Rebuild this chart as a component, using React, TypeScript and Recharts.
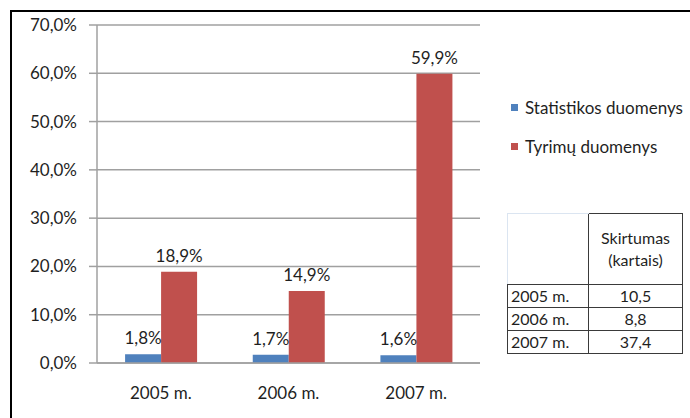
import React from "react";
import { BarChart, Bar, XAxis, YAxis, CartesianGrid, LabelList } from "recharts";

const years = ["2005 m.", "2006 m.", "2007 m."];
const statistikos = [1.8, 1.7, 1.6];
const tyrimu = [18.9, 14.9, 59.9];
const skirtumas = ["10,5", "8,8", "37,4"];
const yTicks = [0, 10, 20, 30, 40, 50, 60, 70];
const edgeTicks = [0, 1, 2, 3];

const seriesNames = ["Statistikos duomenys", "Tyrimų duomenys"];
const colors = ["#4f81bd", "#c0504d"];

const data = years.map((name, i) => ({ name, stat: statistikos[i], tyr: tyrimu[i] }));

const fmt = (v: number) => v.toFixed(1).replace(".", ",") + "%";

const FONT = "Lato, 'Noto Sans', sans-serif";
const TEXT = "#1f1f1f";
const GRID = "#a0a0a0";
const FS = 17;

function LegendBox() {
  return (
    <div
      style={{
        position: "absolute",
        left: 511,
        top: 97,
        fontFamily: FONT,
        fontSize: FS,
        color: TEXT,
        whiteSpace: "nowrap",
      }}
    >
      {seriesNames.map((n, i) => (
        <div key={n} style={{ display: "flex", alignItems: "center", height: 20, marginBottom: i === 0 ? 19 : 0 }}>
          <span style={{ display: "inline-block", width: 7, height: 7, background: colors[i], marginRight: 7 }} />
          {n}
        </div>
      ))}
    </div>
  );
}

function DiffTable() {
  const line = "1.5px solid #3a3a3a";
  const cell: React.CSSProperties = { fontFamily: FONT, fontSize: 16, color: TEXT, height: 22, padding: 0, lineHeight: "20px" };
  return (
    <table
      style={{
        position: "absolute",
        left: 507,
        top: 213,
        borderCollapse: "collapse",
        width: 176,
      }}
    >
      <tbody>
        <tr>
          <td style={{ ...cell, width: 80, height: 70, borderTop: "1px solid #dbe5f1", borderLeft: "1px solid #dbe5f1", borderBottom: line }} />
          <td style={{ ...cell, height: 70, border: line, textAlign: "center", lineHeight: "22px" }}>
            Skirtumas
            <br />
            (kartais)
          </td>
        </tr>
        {years.map((y, i) => (
          <tr key={y}>
            <td style={{ ...cell, border: line, paddingLeft: 3 }}>{y}</td>
            <td style={{ ...cell, border: line, textAlign: "center" }}>{skirtumas[i]}</td>
          </tr>
        ))}
      </tbody>
    </table>
  );
}

export default function App() {
  return (
    <div
      style={{
        position: "absolute",
        left: 0,
        top: 0,
        width: 690,
        height: 418,
        overflow: "hidden",
        background: "#fff",
        fontFamily: FONT,
      }}
    >
      <div
        style={{
          position: "absolute",
          left: 10,
          top: 10,
          width: 700,
          height: 420,
          borderLeft: "2px solid #000",
          borderTop: "2px solid #000",
        }}
      />
      <BarChart
        width={690}
        height={418}
        data={data}
        margin={{ top: 25, right: 210, bottom: 0, left: 0 }}
        barGap={0}
        barCategoryGap="22%"
      >
        <CartesianGrid vertical={false} stroke={GRID} strokeWidth={1.5} xAxisId="b_cat" />
        <XAxis
          xAxisId="a_edge"
          type="number"
          domain={[0, 3]}
          ticks={edgeTicks}
          tick={false}
          tickSize={6}
          height={6}
          stroke={GRID}
          strokeWidth={1.5}
        />
        <XAxis
          xAxisId="b_cat"
          dataKey="name"
          axisLine={false}
          tickLine={false}
          tickSize={0}
          tickMargin={18}
          height={49}
          tick={{ fill: TEXT, fontSize: FS, fontFamily: FONT }}
        />
        <YAxis
          domain={[0, 70]}
          ticks={yTicks}
          tickFormatter={fmt}
          width={97}
          tickSize={8}
          tickMargin={12}
          stroke={GRID}
          strokeWidth={1.5}
          tick={{ fill: TEXT, fontSize: FS, fontFamily: FONT }}
        />
        <Bar xAxisId="b_cat" dataKey="stat" name={seriesNames[0]} fill={colors[0]} isAnimationActive={false}>
          <LabelList dataKey="stat" position="top" offset={10} formatter={(v: number) => fmt(v)} fill={TEXT} fontSize={FS} fontFamily={FONT} />
        </Bar>
        <Bar xAxisId="b_cat" dataKey="tyr" name={seriesNames[1]} fill={colors[1]} isAnimationActive={false}>
          <LabelList dataKey="tyr" position="top" offset={10} formatter={(v: number) => fmt(v)} fill={TEXT} fontSize={FS} fontFamily={FONT} />
        </Bar>
      </BarChart>
      <LegendBox />
      <DiffTable />
    </div>
  );
}
